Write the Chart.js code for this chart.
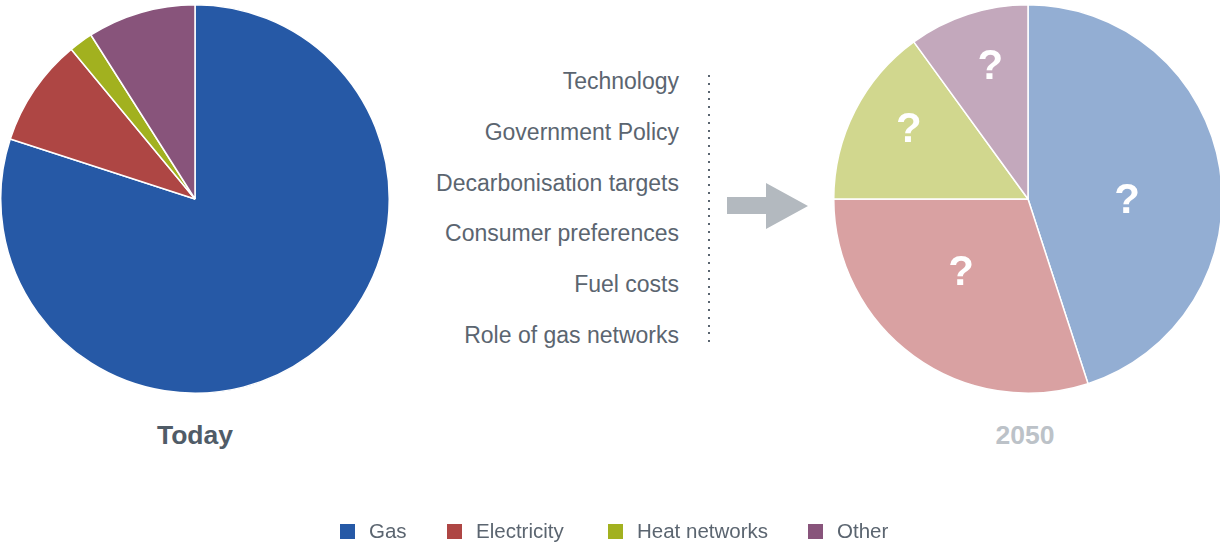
<!DOCTYPE html>
<html>
<head>
<meta charset="utf-8">
<script src="https://cdn.jsdelivr.net/npm/chart.js@4.4.1/dist/chart.umd.min.js"></script>
<style>
  html, body { margin: 0; padding: 0; background: #fff; }
  body { width: 1220px; height: 543px; position: relative; overflow: hidden;
         font-family: "Liberation Sans", Arial, sans-serif; color: #5b6570; }
  .pie { position: absolute; top: 4px; width: 390px; height: 390px; }
  .title { position: absolute; top: 420px; width: 300px; text-align: center;
           font-weight: bold; font-size: 26.5px; line-height: 30px; }
  #drivers { position: absolute; left: 380px; top: 0; width: 299px; }
  #drivers div { position: absolute; right: 0; font-size: 23px; white-space: nowrap; line-height: 1; }
  #dots { position: absolute; left: 708px; top: 75px; width: 2px; height: 270px;
          background: repeating-linear-gradient(to bottom, #5a6570 0 2px, transparent 2px 7.8px); }
  #legend { position: absolute; top: 520px; left: 0; width: 1220px; height: 22px; }
  .item { position: absolute; font-size: 20.5px; line-height: 22px; white-space: nowrap; }
  .item span { display: inline-block; width: 15px; height: 15px; vertical-align: -1px; margin-right: 14px; }
</style>
</head>
<body>
<div class="pie" style="left:0px"><canvas id="todayPie" width="390" height="390"></canvas></div>
<div class="pie" style="left:833px"><canvas id="futurePie" width="390" height="390"></canvas></div>
<div id="titleToday" class="title" style="left:45px;color:#505c67"></div>
<div id="titleFuture" class="title" style="left:875px;color:#bcc2c8"></div>
<div id="drivers"></div>
<div id="dots"></div>
<svg width="1220" height="543" style="position:absolute;left:0;top:0;pointer-events:none">
  <polygon points="727,197 766,197 766,183 808,206 766,229 766,214 727,214" fill="#b3b9bf"/>
</svg>
<div id="legend"></div>
<script>
const categories = ['Gas', 'Electricity', 'Heat networks', 'Other'];
const todayShares = [80, 9, 2, 9];
const futureShares = [45, 30, 15, 10];
const drivers = ['Technology', 'Government Policy', 'Decarbonisation targets',
                 'Consumer preferences', 'Fuel costs', 'Role of gas networks'];
const chartTitles = ['Today', '2050'];
const futureMarks = ['?', '?', '?', '?'];

const solidColors = ['#2659a6', '#ae4644', '#a2b11f', '#88547b'];
const fadedColors = ['#93aed3', '#d9a1a2', '#d1d78e', '#c3a8bc'];

// draws a white "?" on every slice of the 2050 pie
const questionMarks = {
    id: 'questionMarks',
    afterDatasetsDraw(chart) {
        const ctx = chart.ctx;
        const arcs = chart.getDatasetMeta(0).data;
        ctx.save();
        ctx.fillStyle = '#ffffff';
        ctx.font = 'bold 42px "Liberation Sans", Arial, sans-serif';
        ctx.textAlign = 'center';
        ctx.textBaseline = 'middle';
        arcs.forEach((arc, i) => {
            const p = arc.getProps(['x', 'y', 'startAngle', 'endAngle', 'outerRadius'], true);
            const span = p.endAngle - p.startAngle;
            const ang = p.startAngle + span * 0.56;
            const r = p.outerRadius * (span < 1.1 ? 0.71 : 0.51);
            ctx.fillText(futureMarks[i], p.x + Math.cos(ang) * r, p.y + Math.sin(ang) * r + 1);
        });
        ctx.restore();
    }
};

function makePie(canvasId, values, colors, plugins) {
    const ctx = document.getElementById(canvasId).getContext('2d');
    return new Chart(ctx, {
        type: 'pie',
        data: {
            labels: categories,
            datasets: [{
                data: values,
                backgroundColor: colors,
                borderColor: '#ffffff',
                borderWidth: 1.5,
                hoverOffset: 0
            }]
        },
        options: {
            responsive: false,
            animation: false,
            events: [],
            layout: { padding: 0 },
            plugins: {
                legend: { display: false },
                tooltip: { enabled: false }
            }
        },
        plugins: plugins || []
    });
}

makePie('todayPie', todayShares, solidColors);
makePie('futurePie', futureShares, fadedColors, [questionMarks]);

document.getElementById('titleToday').textContent = chartTitles[0];
document.getElementById('titleFuture').textContent = chartTitles[1];

// driver list, right aligned, one row every ~51px
const driverBox = document.getElementById('drivers');
drivers.forEach((d, i) => {
    const el = document.createElement('div');
    el.textContent = d;
    el.style.top = (70 + i * 50.8) + 'px';
    driverBox.appendChild(el);
});

// legend
const legendLeft = [340, 447, 608, 808];
const legendBox = document.getElementById('legend');
categories.forEach((c, i) => {
    const el = document.createElement('div');
    el.className = 'item';
    el.style.left = legendLeft[i] + 'px';
    el.innerHTML = '<span style="background:' + solidColors[i] + '"></span>' + c;
    legendBox.appendChild(el);
});
</script>
</body>
</html>
